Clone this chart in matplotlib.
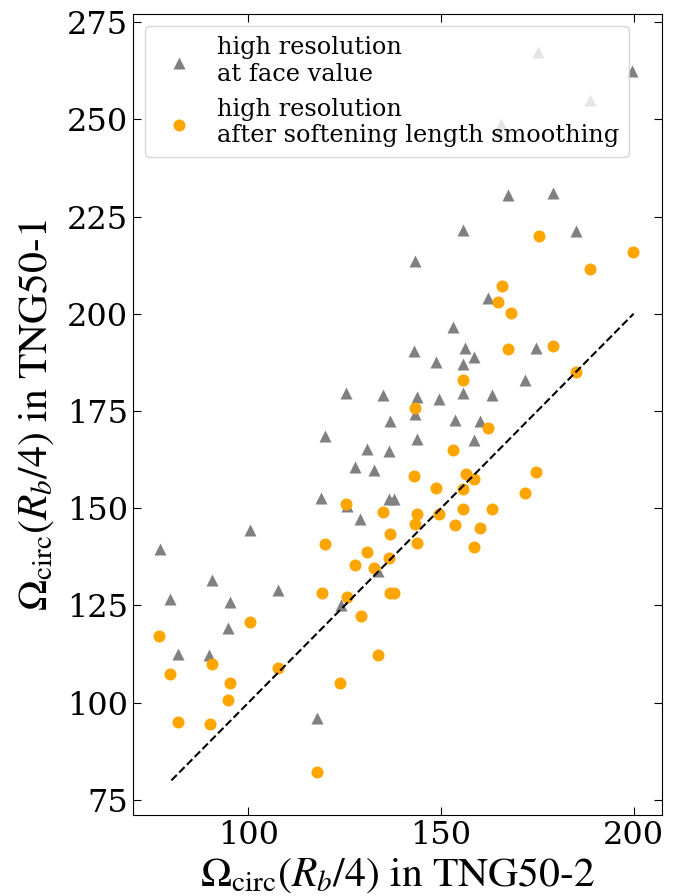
import matplotlib
matplotlib.use("Agg")
import matplotlib.pyplot as plt
import numpy as np

plt.rcParams['font.family'] = 'DejaVu Serif'
plt.rcParams['mathtext.fontset'] = 'stix'

# high resolution at face value (TNG50-2 x, TNG50-1 y)
tri_x = [167.5, 179.2, 155.6, 185.0, 143.3, 162.3, 153.2, 142.9, 156.3, 158.6,
         148.7, 155.6, 174.7, 171.9, 143.7, 149.4, 155.6, 163.2, 143.3, 153.6,
         160.0, 143.7, 158.6, 136.5, 137.7, 125.3, 135.0, 136.7, 120.0, 130.7,
         136.4, 127.6, 132.5, 118.9, 125.7, 129.0, 100.5, 77.0, 90.5, 107.7,
         133.6, 79.6, 95.1, 94.8, 81.8, 89.8, 124.0, 117.7, 175.3, 188.6,
         165.7, 164.7, 199.7]
tri_y = [230.6, 231.0, 221.5, 221.2, 213.6, 204.1, 196.5, 190.4, 191.2, 188.9,
         187.5, 187.2, 191.2, 183.0, 178.6, 178.0, 179.5, 179.1, 174.3, 172.8,
         172.4, 167.8, 167.5, 152.3, 152.3, 179.7, 179.2, 172.4, 168.5, 165.1,
         164.7, 160.6, 159.9, 152.7, 150.6, 147.1, 144.3, 139.4, 131.5, 128.9,
         133.9, 126.7, 125.8, 119.3, 112.6, 112.2, 125.0, 96.1, 267.2, 254.9,
         248.7, 246.7, 262.3]

# high resolution after softening length smoothing
circ_x = [175.4, 199.8, 188.7, 165.8, 164.7, 168.1, 167.4, 179.2, 185.0, 155.6,
          143.3, 162.3, 153.2, 142.9, 156.4, 158.6, 174.6, 148.7, 155.6, 171.9,
          143.7, 149.4, 155.6, 163.2, 143.3, 153.6, 160.1, 143.7, 158.6, 136.7,
          137.8, 125.3, 134.9, 136.7, 120.0, 130.7, 136.4, 127.6, 132.5, 119.0,
          125.7, 129.2, 76.8, 100.5, 79.6, 90.5, 133.7, 107.7, 95.1, 123.8,
          94.8, 81.8, 89.9, 117.7]
circ_y = [220.0, 216.0, 211.4, 207.1, 203.0, 200.3, 190.9, 191.6, 185.0, 183.0,
          175.8, 170.5, 164.9, 158.4, 158.8, 157.6, 159.2, 155.3, 155.0, 153.8,
          148.5, 148.5, 149.7, 149.7, 145.9, 145.6, 144.9, 141.1, 139.9, 128.1,
          128.3, 151.2, 148.9, 143.3, 140.7, 138.8, 137.2, 135.5, 134.7, 128.2,
          127.1, 122.2, 117.2, 120.7, 107.3, 110.0, 112.2, 108.9, 105.1, 105.1,
          100.6, 94.9, 94.5, 82.1]

line_x = [80, 200]
line_y = [80, 200]

x_ticks = [100, 150, 200]
y_ticks = [75, 100, 125, 150, 175, 200, 225, 250, 275]

fig = plt.figure(figsize=(6.85, 8.96), dpi=100)
ax = fig.add_axes([0.194, 0.0904, 0.772, 0.8936])

ax.scatter(tri_x, tri_y, marker='^', s=75, color='grey', linewidths=0,
           label='high resolution\nat face value')
ax.scatter(circ_x, circ_y, marker='o', s=75, color='orange', linewidths=0,
           label='high resolution\nafter softening length smoothing')
ax.plot(line_x, line_y, 'k--', lw=1.5)

ax.set_xlim(70, 207.3)
ax.set_ylim(71.1, 277)
ax.set_xticks(x_ticks)
ax.set_yticks(y_ticks)
ax.tick_params(direction='in', top=True, right=True, labelsize=23, length=6)

lab_font = dict(family='STIXGeneral', size=30)
ax.set_xlabel(r'$\Omega_{\rm circ}(R_b/4)$ in TNG50-2', fontdict=lab_font, labelpad=3)
ax.set_ylabel(r'$\Omega_{\rm circ}(R_b/4)$ in TNG50-1', fontdict=lab_font, labelpad=8)

ax.legend(loc='upper left', fontsize=17.3, handletextpad=0.6)

fig.savefig('out.png', dpi=100)
